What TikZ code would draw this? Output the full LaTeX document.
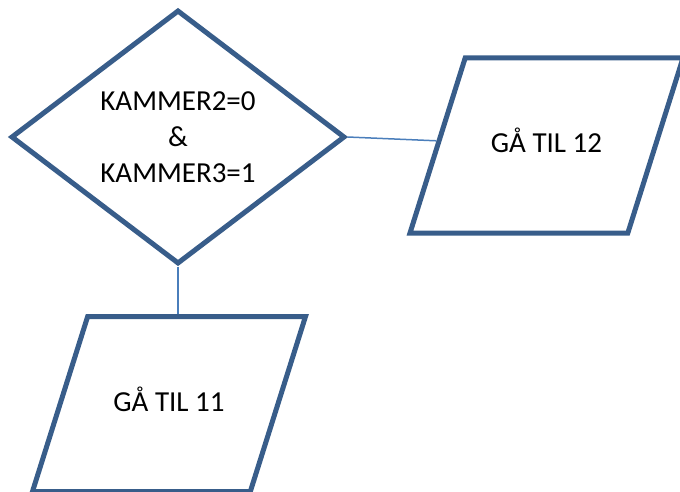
\documentclass[tikz,border=0pt]{standalone}
\usepackage{fontspec}
\setmainfont{Carlito}
\usetikzlibrary{shapes.geometric,positioning}
\definecolor{boxline}{RGB}{56,93,138}
\definecolor{linkline}{RGB}{74,126,187}

\begin{document}
\begin{tikzpicture}[x=1pt,y=1pt,
  decision/.style={diamond,draw=boxline,line width=5pt,minimum width=334pt,minimum height=254pt,inner sep=0pt,align=center,font=\fontsize{29}{36}\selectfont},
  jump/.style={trapezium,trapezium left angle=72.5,trapezium right angle=107.5,trapezium stretches body=true,draw=boxline,line width=5pt,text height=20pt,text depth=6pt,inner ysep=74.5pt,minimum width=273pt,font=\fontsize{29}{36}\selectfont},
  link/.style={draw=linkline,line width=1.5pt}]
	\useasboundingbox (0,0) rectangle (680,491);
	\node[decision] (k23) at (178,354) {KAMMER2=0\\\&\\KAMMER3=1};
	\node[jump] (g12) at (546.5,345.5) {GÅ TIL 12};
	\node[jump] (g11) at (169,87) {GÅ TIL 11};

	\draw[link] (k23.east) -- (g12);
	\draw[link] (k23.south) -- (k23.south |- g11.north);
\end{tikzpicture}
\end{document}
